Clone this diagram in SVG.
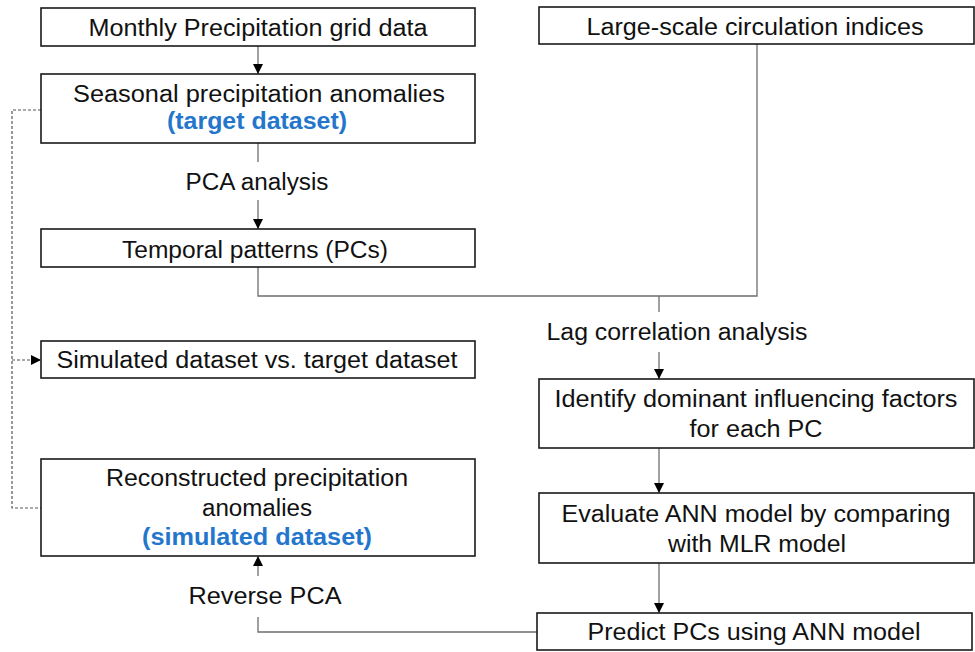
<svg xmlns="http://www.w3.org/2000/svg" width="975" height="652" viewBox="0 0 975 652">
  <defs>
    <style>
      .box { fill: #ffffff; stroke: #1a1a1a; stroke-width: 1.6; }
      .t { font-family: "Liberation Sans", Arial, sans-serif; font-size: 23px; fill: #111111; text-anchor: middle; }
      .hl { font-family: "Liberation Sans", Arial, sans-serif; font-size: 23px; font-weight: bold; fill: #2376cc; text-anchor: middle; }
      .ln { fill: none; stroke: #6e6e6e; stroke-width: 1.3; }
      .dash { fill: none; stroke: #555555; stroke-width: 1.2; stroke-dasharray: 3 2; }
    </style>
    <marker id="ah" viewBox="0 0 10 10" refX="10" refY="5" markerWidth="10" markerHeight="10" markerUnits="userSpaceOnUse" orient="auto">
      <path d="M0,0 L10,5 L0,10 Z" fill="#000000"/>
    </marker>
  </defs>
  <rect width="975" height="652" fill="#ffffff"/>

  <!-- connectors -->
  <g id="connectors">
    <line class="ln" x1="258" y1="46" x2="258" y2="74" marker-end="url(#ah)"/>
    <line class="ln" x1="258" y1="143" x2="258" y2="162"/>
    <line class="ln" x1="258" y1="200" x2="258" y2="229" marker-end="url(#ah)"/>
    <polyline class="ln" points="258,267 258,296 757,296 757,44"/>
    <line class="ln" x1="659" y1="296" x2="659" y2="312"/>
    <line class="ln" x1="659" y1="352" x2="659" y2="379" marker-end="url(#ah)"/>
    <line class="ln" x1="659" y1="448" x2="659" y2="493" marker-end="url(#ah)"/>
    <line class="ln" x1="659" y1="563" x2="659" y2="613" marker-end="url(#ah)"/>
    <polyline class="ln" points="537,632 258,632 258,617"/>
    <line class="ln" x1="258" y1="576" x2="258" y2="556" marker-end="url(#ah)"/>
    <polyline class="dash" points="41,110 12,110 12,508 41,508"/>
    <line class="dash" x1="12" y1="360" x2="41" y2="360" marker-end="url(#ah)"/>
    <text class="t" x="257" y="190" textLength="143" lengthAdjust="spacingAndGlyphs">PCA analysis</text>
    <text class="t" x="677" y="340" textLength="261" lengthAdjust="spacingAndGlyphs">Lag correlation analysis</text>
    <text class="t" x="265" y="604" textLength="153" lengthAdjust="spacingAndGlyphs">Reverse PCA</text>
  </g>

  <g id="monthly">
    <rect class="box" x="41" y="8" width="434" height="38"/>
    <text class="t" x="258" y="36" textLength="339" lengthAdjust="spacingAndGlyphs">Monthly Precipitation grid data</text>
  </g>

  <g id="seasonal">
    <rect class="box" x="41" y="74" width="434" height="69"/>
    <text class="t" x="259" y="102" textLength="372" lengthAdjust="spacingAndGlyphs">Seasonal precipitation anomalies</text>
    <text class="hl" x="257" y="129" textLength="180" lengthAdjust="spacingAndGlyphs">(target dataset)</text>
  </g>

  <g id="temporal">
    <rect class="box" x="41" y="229" width="434" height="38"/>
    <text class="t" x="255" y="258" textLength="266" lengthAdjust="spacingAndGlyphs">Temporal patterns (PCs)</text>
  </g>

  <g id="circulation">
    <rect class="box" x="539" y="7" width="435" height="37"/>
    <text class="t" x="755" y="35" textLength="337" lengthAdjust="spacingAndGlyphs">Large-scale circulation indices</text>
  </g>

  <g id="comparison">
    <rect class="box" x="41" y="341" width="434" height="37"/>
    <text class="t" x="257" y="368" textLength="401" lengthAdjust="spacingAndGlyphs">Simulated dataset vs. target dataset</text>
  </g>

  <g id="reconstructed">
    <rect class="box" x="41" y="459" width="434" height="97"/>
    <text class="t" x="257" y="486" textLength="302" lengthAdjust="spacingAndGlyphs">Reconstructed precipitation</text>
    <text class="t" x="257" y="516" textLength="110" lengthAdjust="spacingAndGlyphs">anomalies</text>
    <text class="hl" x="257" y="545" textLength="230" lengthAdjust="spacingAndGlyphs">(simulated dataset)</text>
  </g>

  <g id="factors">
    <rect class="box" x="539" y="379" width="435" height="69"/>
    <text class="t" x="756" y="407" textLength="403" lengthAdjust="spacingAndGlyphs">Identify dominant influencing factors</text>
    <text class="t" x="756" y="437" textLength="133" lengthAdjust="spacingAndGlyphs">for each PC</text>
  </g>

  <g id="evaluate">
    <rect class="box" x="539" y="493" width="435" height="70"/>
    <text class="t" x="756" y="522" textLength="389" lengthAdjust="spacingAndGlyphs">Evaluate ANN model by comparing</text>
    <text class="t" x="757" y="552" textLength="178" lengthAdjust="spacingAndGlyphs">with MLR model</text>
  </g>

  <g id="predict">
    <rect class="box" x="537" y="613" width="435" height="37"/>
    <text class="t" x="754" y="640" textLength="333" lengthAdjust="spacingAndGlyphs">Predict PCs using ANN model</text>
  </g>
</svg>
